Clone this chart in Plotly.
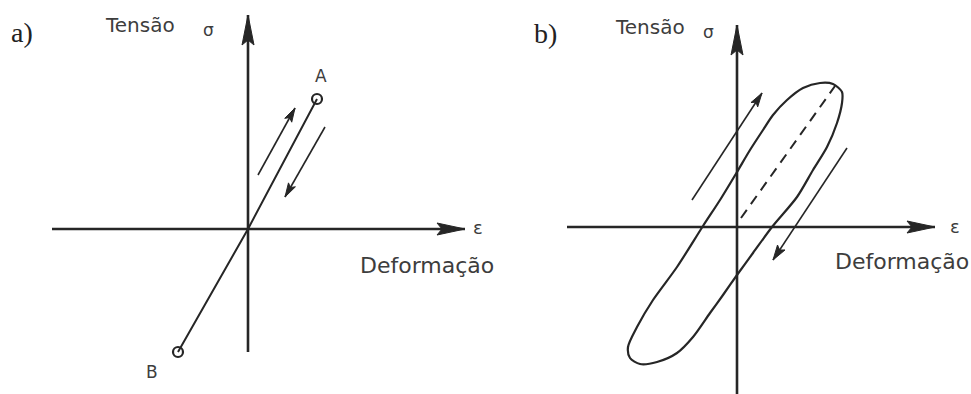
import math
import plotly.graph_objects as go

W, H = 971, 394
PX = 10  # pixels per diagram unit, same in x and y

# ---- panel a) elastic: straight line through the origin between A and B
a_origin = (248, 229)  # pixel position of the axes crossing
a_eps_axis = [-19.6, 21.7]
a_sig_axis = [-12.3, 21.4]
a_line_x = [-7.0, 0.0, 6.9]
a_line_y = [-12.3, 0.0, 13.0]
a_points_x = [6.9, -7.0]
a_points_y = [13.0, -12.3]
a_point_names = ['A', 'B']
a_up_arrow = [(1.0, 5.4), (4.7, 12.1)]
a_down_arrow = [(7.7, 10.2), (3.7, 3.2)]

# ---- panel b) hysteresis loop
b_origin = (737, 227)
b_eps_axis = [-17.0, 19.8]
b_sig_axis = [-16.8, 20.2]
b_loop_x = [-10.7, -10.9, -10.0, -8.4, -6.0, -3.4, -1.7, 0.0, 1.3, 2.6, 3.6, 5.0, 6.6, 8.3,
            9.6, 10.5, 10.5, 10.0, 9.0, 7.6, 6.0, 3.5, 1.6, 0.0, -1.4, -2.7, -4.4, -6.0,
            -8.0, -9.7, -10.7]
b_loop_y = [-13.1, -12.0, -10.0, -7.3, -4.0, 0.1, 2.7, 5.5, 7.7, 9.7, 11.2, 12.7, 13.9, 14.4,
            14.3, 13.5, 12.4, 10.4, 8.0, 5.7, 3.0, 0.0, -2.6, -4.8, -6.8, -8.6, -11.0, -12.6,
            -13.5, -13.7, -13.1]
b_dash_x = [0.4, 9.8]
b_dash_y = [0.9, 14.1]
b_up_arrow = [(-4.5, 2.7), (2.5, 13.4)]
b_down_arrow = [(11.0, 7.9), (3.6, -3.3)]

INK = '#262626'
TXT = '#3d3d3d'

fig = go.Figure()


def head(tail, tip, length, half, notch):
    # barbed arrow head, sizes in pixels
    (x0, y0), (x1, y1) = tail, tip
    n = math.hypot(x1 - x0, y1 - y0)
    ux, uy = (x1 - x0) / n, (y1 - y0) / n
    px, py = -uy, ux
    L, hw, nt = length / PX, half / PX, notch / PX
    bx, by = x1 - ux * L, y1 - uy * L
    nx, ny = x1 - ux * (L - nt), y1 - uy * (L - nt)
    xs = [x1, bx + px * hw, nx, bx - px * hw, x1]
    ys = [y1, by + py * hw, ny, by - py * hw, y1]
    return xs, ys


def arrow(tail, tip, xa, ya, width, length, half, notch):
    fig.add_trace(go.Scatter(x=[tail[0], tip[0]], y=[tail[1], tip[1]], mode='lines',
                             line=dict(color=INK, width=width), xaxis=xa, yaxis=ya,
                             hoverinfo='skip'))
    hx, hy = head(tail, tip, length, half, notch)
    fig.add_trace(go.Scatter(x=hx, y=hy, mode='lines', fill='toself', fillcolor=INK,
                             line=dict(color=INK, width=1), xaxis=xa, yaxis=ya,
                             hoverinfo='skip'))


def text(s, x, y, xr, yr, size, family='DejaVu Sans', xanchor='center', color=TXT):
    fig.add_annotation(text=s, x=x, y=y, xref=xr, yref=yr, showarrow=False,
                       xanchor=xanchor, yanchor='middle',
                       font=dict(family=family, size=size, color=color))


# axes of both panels
for (ex, sy, xa, ya) in [(a_eps_axis, a_sig_axis, 'x', 'y'), (b_eps_axis, b_sig_axis, 'x2', 'y2')]:
    arrow((ex[0], 0), (ex[1], 0), xa, ya, 2.6, 28, 6, 5)
    arrow((0, sy[0]), (0, sy[1]), xa, ya, 2.6, 30, 6, 5)

# panel a
fig.add_trace(go.Scatter(x=a_line_x, y=a_line_y, mode='lines', line=dict(color=INK, width=2),
                         xaxis='x', yaxis='y', hoverinfo='skip'))
fig.add_trace(go.Scatter(x=a_points_x, y=a_points_y, mode='markers',
                         marker=dict(symbol='circle-open', size=10, color=INK, line=dict(width=2.2)),
                         xaxis='x', yaxis='y', hoverinfo='skip'))
arrow(a_up_arrow[0], a_up_arrow[1], 'x', 'y', 1.6, 14, 4, 3)
arrow(a_down_arrow[0], a_down_arrow[1], 'x', 'y', 1.6, 14, 4, 3)

# panel b
fig.add_trace(go.Scatter(x=b_loop_x, y=b_loop_y, mode='lines',
                         line=dict(color=INK, width=2.2, shape='spline', smoothing=0.8),
                         xaxis='x2', yaxis='y2', hoverinfo='skip'))
fig.add_trace(go.Scatter(x=b_dash_x, y=b_dash_y, mode='lines',
                         line=dict(color=INK, width=2, dash='10px,7px'),
                         xaxis='x2', yaxis='y2', hoverinfo='skip'))
arrow(b_up_arrow[0], b_up_arrow[1], 'x2', 'y2', 1.6, 14, 4, 3)
arrow(b_down_arrow[0], b_down_arrow[1], 'x2', 'y2', 1.6, 15, 4.5, 3)

# labels
text('a)', -22.6, 19.7, 'x', 'y', 28, 'Liberation Serif', color='#222222')
text('Tensão', -14.5, 20.4, 'x', 'y', 20, xanchor='left')
text('σ', -4.0, 19.9, 'x', 'y', 17)
text('ε', 23.0, 0.2, 'x', 'y', 18)
text('Deformação', 11.0, -3.6, 'x', 'y', 22, xanchor='left')
text(a_point_names[0], 7.3, 15.3, 'x', 'y', 17)
text(a_point_names[1], -9.6, -14.3, 'x', 'y', 17)

text('b)', -19.2, 19.4, 'x2', 'y2', 28, 'Liberation Serif', color='#222222')
text('Tensão', -12.4, 20.0, 'x2', 'y2', 20, xanchor='left')
text('σ', -2.9, 19.5, 'x2', 'y2', 17)
text('ε', 21.8, 0.1, 'x2', 'y2', 18)
text('Deformação', 9.6, -3.4, 'x2', 'y2', 22, xanchor='left')


def ranges(origin, x0_px, x1_px):
    ox, oy = origin
    return [(x0_px - ox) / PX, (x1_px - ox) / PX], [(oy - H) / PX, oy / PX]


axr_a, ayr_a = ranges(a_origin, 0, W / 2)
axr_b, ayr_b = ranges(b_origin, W / 2, W)
hidden = dict(visible=False, showgrid=False, zeroline=False, fixedrange=True)

fig.update_layout(
    width=W, height=H,
    margin=dict(l=0, r=0, t=0, b=0),
    paper_bgcolor='white', plot_bgcolor='white',
    showlegend=False,
    xaxis=dict(domain=[0, 0.5], range=axr_a, anchor='y', **hidden),
    yaxis=dict(domain=[0, 1], range=ayr_a, anchor='x', **hidden),
    xaxis2=dict(domain=[0.5, 1], range=axr_b, anchor='y2', **hidden),
    yaxis2=dict(domain=[0, 1], range=ayr_b, anchor='x2', **hidden),
)

# the page body has a default 8px margin; remove it so the figure fills the window
fig.write_html('out.html', config={'displayModeBar': False},
               post_script="document.body.style.margin='0';")
